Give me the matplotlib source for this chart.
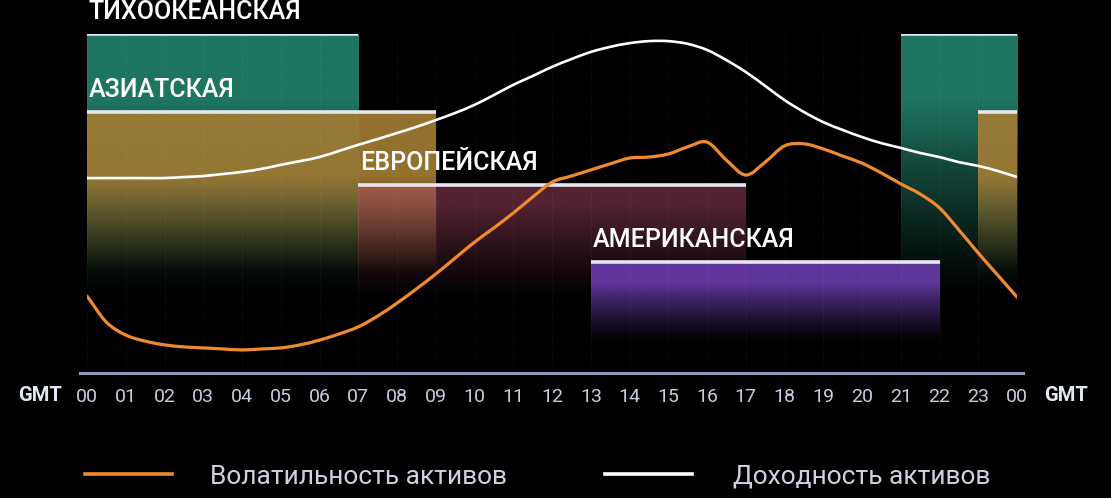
"""Trading sessions chart: volatility and yield across the GMT day."""

import numpy as np
import matplotlib
matplotlib.use("Agg")
import matplotlib.pyplot as plt
from matplotlib.lines import Line2D
from matplotlib.path import Path
from matplotlib.patches import PathPatch

plt.rcParams["font.family"] = ["Roboto", "DejaVu Sans"]

# ---- data -------------------------------------------------------------
hours = list(range(25))
hour_labels = [f"{h % 24:02d}" for h in hours]

session_names = ["ТИХООКЕАНСКАЯ", "АЗИАТСКАЯ", "ЕВРОПЕЙСКАЯ", "АМЕРИКАНСКАЯ"]
session_spans = [[(0, 7), (21, 24)], [(0, 9), (23, 24)], [(7, 17)], [(13, 22)]]
session_levels = [100, 77.0, 55.5, 32.7]

curve_t = [
    0, 0.5, 1, 1.5, 2, 2.5, 3, 3.5, 4, 4.5, 5, 5.5, 6, 6.5, 7, 7.5, 8, 8.5,
    9, 9.5, 10, 10.5, 11, 11.5, 12, 12.5, 13, 13.5, 14, 14.5, 15, 15.5, 16,
    16.5, 17, 17.5, 18, 18.5, 19, 19.5, 20, 20.5, 21, 21.5, 22, 22.5, 23,
    23.5, 24,
]
volatility = [
    22.7, 15.0, 11.2, 9.4, 8.3, 7.7, 7.4, 7.1, 6.8, 7.1, 7.4, 8.3, 9.7, 11.5,
    13.6, 16.8, 20.6, 24.8, 29.2, 33.9, 38.6, 42.8, 47.2, 51.9, 56.3, 58.1,
    59.9, 61.7, 63.4, 63.7, 64.6, 66.7, 68.1, 62.8, 58.4, 62.2, 67.0, 67.6,
    66.1, 64.0, 61.9, 59.0, 55.8, 52.8, 48.7, 42.2, 35.4, 28.9, 22.4,
]
yield_ = [
    57.5, 57.5, 57.5, 57.5, 57.5, 57.8, 58.1, 58.7, 59.3, 60.2, 61.4, 62.5,
    63.7, 65.5, 67.3, 69.0, 70.8, 72.6, 74.6, 76.7, 79.1, 82.0, 85.0, 87.6,
    90.3, 92.6, 94.7, 96.2, 97.3, 97.9, 97.9, 97.1, 95.3, 92.3, 88.8, 84.7,
    80.5, 77.0, 74.0, 71.7, 69.6, 67.8, 66.4, 64.9, 63.7, 62.2, 61.1, 59.6,
    57.8,
]
legend_labels = ["Волатильность активов", "Доходность активов"]

# ---- style ------------------------------------------------------------
session_colors = ["#1e7560", "#a27c34", "#be5070", "#7040b8"]
session_alpha = [1.0, 0.92, 0.45, 0.85]
fade_bottom = [22, 28, 21, 9]   # where a block has faded out completely
fade_top = [80, 58, 50, 27]     # where it reaches full colour
VOL_COLOR = "#f08a2c"
YIELD_COLOR = "#ffffff"
W, H = 1111, 498
BG = "#000000"


def gradient_band(ax, x0, x1, top, color, alpha, y_end, y_full):
    """Colour block that fades out towards the bottom."""
    rgb = matplotlib.colors.to_rgb(color)
    y = np.linspace(0, top, 300)
    s = np.clip((y - y_end) / (y_full - y_end), 0, 1)
    img = np.zeros((len(y), 1, 4))
    img[:, 0, :3] = rgb
    img[:, 0, 3] = alpha * s ** 1.2
    ax.imshow(img, extent=(x0, x1, 0, top), origin="lower", aspect="auto",
              interpolation="bilinear", zorder=1)


def smooth_curve(ax, xs, ys, **kw):
    """Draw the read points as a Catmull-Rom curve (Bezier segments)."""
    pts = np.column_stack([xs, ys])
    ext = np.vstack([2 * pts[0] - pts[1], pts, 2 * pts[-1] - pts[-2]])
    verts = [pts[0]]
    codes = [Path.MOVETO]
    for i in range(1, len(ext) - 2):
        p0, p1, p2, p3 = ext[i - 1], ext[i], ext[i + 1], ext[i + 2]
        verts += [p1 + (p2 - p0) / 6, p2 - (p3 - p1) / 6, p2]
        codes += [Path.CURVE4] * 3
    ax.add_patch(PathPatch(Path(verts, codes), fill=False, **kw))


# ---- figure -----------------------------------------------------------
fig = plt.figure(figsize=(W / 100, H / 100), dpi=100, facecolor=BG)
ax = fig.add_axes([87 / W, 125 / H, 930 / W, 339 / H], facecolor=BG)

for i, name in enumerate(session_names):
    level = session_levels[i]
    for x0, x1 in session_spans[i]:
        gradient_band(ax, x0, x1, level, session_colors[i], session_alpha[i],
                      fade_bottom[i], fade_top[i])
        ax.hlines(level, x0, x1, color="#e8e6f2", lw=2.6, zorder=3)
    ax.text(session_spans[i][0][0] + 0.05, level + 4.4, name, color="white",
            fontsize=18, fontweight="medium", ha="left", va="baseline",
            zorder=5, clip_on=False)

for h in hours:
    ax.vlines(h, 0, 100, color="white", alpha=0.09, lw=0.8,
              linestyles=(0, (1, 2)), zorder=2)

smooth_curve(ax, curve_t, volatility, edgecolor=VOL_COLOR, lw=2.3,
             capstyle="round", zorder=4)
smooth_curve(ax, curve_t, yield_, edgecolor=YIELD_COLOR, lw=1.9,
             capstyle="round", zorder=4)

ax.axhline(0, xmin=-0.008, xmax=1.006, color="#8e9ab3", lw=2.2, zorder=3,
           clip_on=False)

ax.set_xlim(0, 24)
ax.set_ylim(0, 100)
ax.set_xticks(hours)
ax.set_xticklabels(hour_labels, color="#c6cde0", fontsize=14)
ax.tick_params(axis="x", length=0, pad=11)
ax.set_yticks([])
for spine in ax.spines.values():
    spine.set_visible(False)

ax.text(-0.65, -6.5, "GMT", color="#e2e6f0", fontsize=14.5,
        fontweight="bold", ha="right", va="center", clip_on=False)
ax.text(24.7, -6.5, "GMT", color="#e2e6f0", fontsize=14.5,
        fontweight="bold", ha="left", va="center", clip_on=False)

# ---- legend -----------------------------------------------------------
leg_y = 1 - 474 / H
for (lx0, lx1, tx), color, label in zip(
    [(85, 172, 210), (605, 692, 733)], [VOL_COLOR, YIELD_COLOR], legend_labels
):
    fig.add_artist(Line2D([lx0 / W, lx1 / W], [leg_y, leg_y], color=color,
                          lw=2.6, transform=fig.transFigure))
    fig.text(tx / W, leg_y, label, color="#cdd2e0", fontsize=19,
             ha="left", va="center_baseline")

fig.savefig("out.png", dpi=100, facecolor=BG)
